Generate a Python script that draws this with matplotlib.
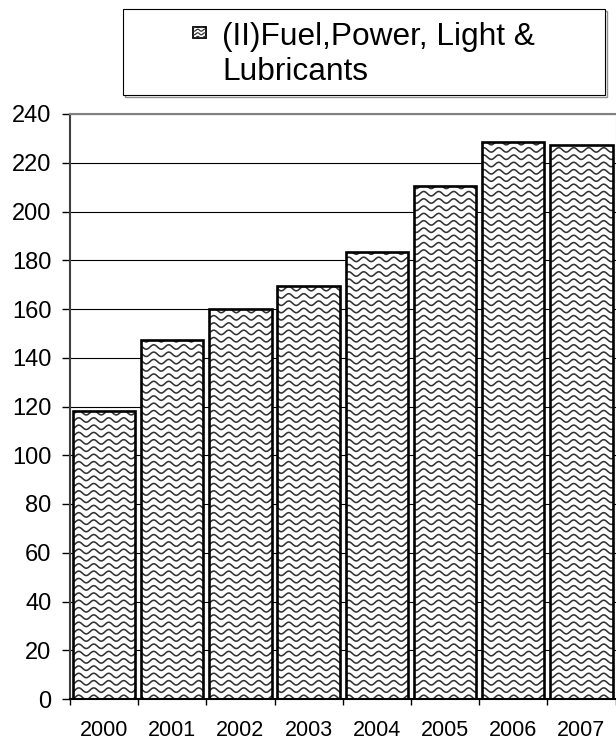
"""Indice de precios: Fuel, Power, Light & Lubricants 2000-2007."""

import numpy as np
import matplotlib.pyplot as plt
from matplotlib.patches import Rectangle
from matplotlib.collections import LineCollection
from matplotlib.transforms import Affine2D

plt.rcParams['font.family'] = ['Liberation Sans', 'DejaVu Sans']

anios = ['2000', '2001', '2002', '2003', '2004', '2005', '2006', '2007']
valores = [118.0, 147.4, 160.1, 169.6, 183.2, 210.5, 228.4, 227.3]
etiqueta = '(II)Fuel,Power, Light &\nLubricants'
yticks = list(range(0, 241, 20))

W, H = 616, 742
fig = plt.figure(figsize=(W / 100, H / 100), dpi=100)
# coordenadas en pixeles (origen abajo a la izquierda)
px = Affine2D().scale(1 / W, 1 / H) + fig.transFigure

ax = fig.add_axes([70 / W, 43 / H, 545.5 / W, 585 / H])


def ondas(x0, x1, y0, y1, paso=7.3, periodo=15.0, amp=2.2):
    xs = np.arange(x0, x1 + 1, 0.5)
    segs = []
    for base in np.arange(y0, y1 + paso, paso):
        ys = base + amp * np.sin(2 * np.pi * xs / periodo)
        segs.append(np.column_stack([xs, ys]))
    return segs


x = np.arange(len(anios))
barras = ax.bar(x, valores, width=0.915, color='white', edgecolor='none', zorder=1)
for b in barras:
    lc = LineCollection(ondas(60, 620, 30, 640), colors='#333333', linewidths=1.15,
                        transform=px, zorder=1.5)
    ax.add_collection(lc, autolim=False)
    lc.set_clip_path(b)
ax.bar(x, valores, width=0.915, fill=False, edgecolor='black', linewidth=1.9, zorder=2)

ax.set_xlim(-0.5, len(anios) - 0.5)
ax.set_ylim(0, 240)
ax.set_yticks(yticks)
ax.yaxis.grid(True, color='black', linewidth=0.8)
ax.set_axisbelow(True)

ax.set_xticks(np.arange(-0.5, len(anios), 1))
ax.set_xticklabels([])
ax.set_xticks(x, minor=True)
ax.set_xticklabels(anios, minor=True)
ax.tick_params(axis='x', which='major', length=4.5, width=1, color='black', direction='out')
ax.tick_params(axis='x', which='minor', length=0, pad=15, labelsize=15.5)
ax.tick_params(axis='y', length=5.8, width=1, color='black', pad=7.5, labelsize=17)

ax.spines['left'].set_color('#404040')
ax.spines['left'].set_linewidth(1.5)
ax.spines['bottom'].set_color('black')
ax.spines['bottom'].set_linewidth(1.5)
ax.spines['top'].set_color('#808080')
ax.spines['top'].set_linewidth(1.5)
ax.spines['right'].set_color('#c8c8c8')
ax.spines['right'].set_linewidth(0.8)

# leyenda dibujada a mano
sombra = Rectangle((125, H - 97), 482, 86, transform=px, fill=False, edgecolor='#909090', linewidth=1.0)
caja = Rectangle((123, H - 95), 482, 86, transform=px, facecolor='white', edgecolor='black', linewidth=0.8)
fig.add_artist(sombra)
fig.add_artist(caja)
marca = Rectangle((193, H - 38), 13, 11, transform=px, facecolor='white', edgecolor='none')
fig.add_artist(marca)
lc = LineCollection(ondas(190, 210, H - 41, H - 24, paso=3.6, periodo=7, amp=1.0),
                    colors='#333333', linewidths=0.9, transform=px)
fig.add_artist(lc)
lc.set_clip_path(marca)
fig.add_artist(Rectangle((193, H - 38), 13, 11, transform=px, fill=False,
                         edgecolor='black', linewidth=1.3))
fig.text(222 / W, (H - 80) / H, etiqueta, fontsize=22.8, ha='left', va='baseline',
         linespacing=1.2)

fig.savefig('out.png', dpi=100)
